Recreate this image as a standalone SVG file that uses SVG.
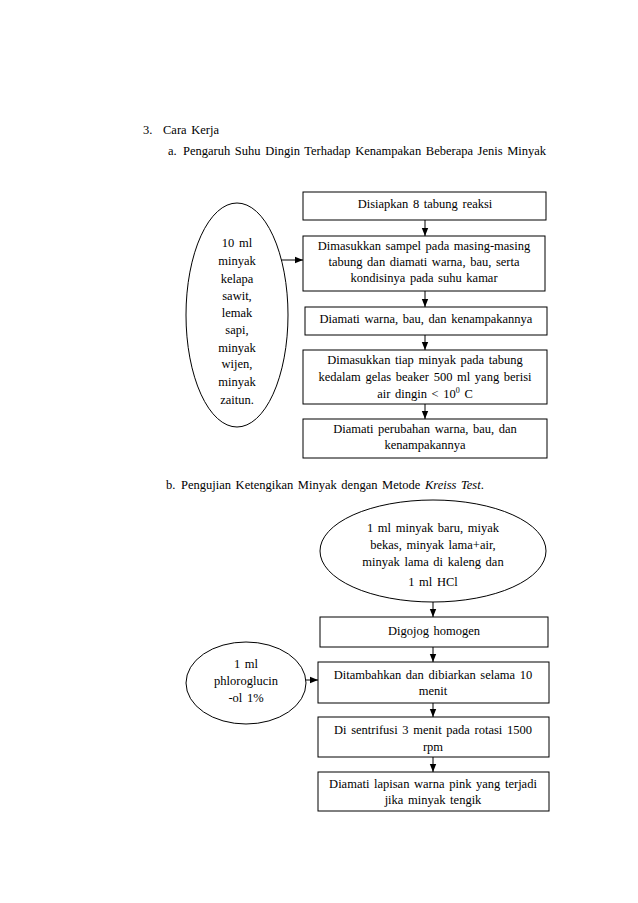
<svg xmlns="http://www.w3.org/2000/svg" width="638" height="903" viewBox="0 0 638 903">
<style>
.t{font-family:"Liberation Serif","Times New Roman",serif;font-size:12.5px;fill:#000;word-spacing:1.5px}
.m{text-anchor:middle}
.s{fill:#fff;stroke:#000;stroke-width:1}
.c{stroke:#000;stroke-width:1;fill:none;marker-end:url(#ah)}
</style>
<defs>
<marker id="ah" viewBox="0 0 8 8" refX="8" refY="4" markerWidth="8" markerHeight="8" markerUnits="userSpaceOnUse" orient="auto">
<path d="M0,0.8 L8,4 L0,7.2 Z" fill="#000"/>
</marker>
</defs>
<rect width="638" height="903" fill="#fff"/>
<g id="headings">
<text class="t" x="143" y="134">3.</text>
<text class="t" x="163" y="134">Cara Kerja</text>
<text class="t" x="168" y="155">a.</text>
<text class="t" x="183" y="155">Pengaruh  Suhu  Dingin  Terhadap Kenampakan  Beberapa Jenis  Minyak</text>
<text class="t" x="166" y="489">b.</text>
<text class="t" x="181" y="489">Pengujian  Ketengikan  Minyak  dengan Metode <tspan font-style="italic">Kreiss Test</tspan>.</text>
</g>
<g id="connectors">
<line class="c" x1="425" y1="220" x2="425" y2="236"/>
<line class="c" x1="425" y1="291" x2="425" y2="307"/>
<line class="c" x1="425" y1="335" x2="425" y2="350"/>
<line class="c" x1="425" y1="404" x2="425" y2="419"/>
<line class="c" x1="281" y1="260" x2="303" y2="260"/>
<line class="c" x1="433" y1="602" x2="433" y2="617"/>
<line class="c" x1="433" y1="647" x2="433" y2="662"/>
<line class="c" x1="433" y1="703" x2="433" y2="717"/>
<line class="c" x1="433" y1="757" x2="433" y2="772"/>
<line class="c" x1="300" y1="680" x2="318" y2="680"/>
</g>
<g id="ellA">
<ellipse class="s" cx="237" cy="315" rx="51" ry="112"/>
<text class="t m" x="237" y="247">10 ml</text>
<text class="t m" x="237" y="265">minyak</text>
<text class="t m" x="237" y="283">kelapa</text>
<text class="t m" x="237" y="300">sawit,</text>
<text class="t m" x="237" y="317">lemak</text>
<text class="t m" x="237" y="334">sapi,</text>
<text class="t m" x="237" y="352">minyak</text>
<text class="t m" x="237" y="368">wijen,</text>
<text class="t m" x="237" y="386">minyak</text>
<text class="t m" x="237" y="404">zaitun.</text>
</g>
<g id="A1">
<rect class="s" x="303" y="192" width="243" height="28"/>
<text class="t m" x="425" y="208">Disiapkan  8 tabung  reaksi</text>
</g>
<g id="A2">
<rect class="s" x="303" y="236" width="242" height="55"/>
<text class="t m" x="424" y="250">Dimasukkan  sampel pada masing-masing</text>
<text class="t m" x="424" y="266">tabung  dan diamati  warna, bau, serta</text>
<text class="t m" x="424" y="282">kondisinya  pada suhu  kamar</text>
</g>
<g id="A3">
<rect class="s" x="305" y="307" width="242" height="28"/>
<text class="t m" x="426" y="323">Diamati  warna, bau, dan kenampakannya</text>
</g>
<g id="A4">
<rect class="s" x="303" y="350" width="244" height="54"/>
<text class="t m" x="425" y="364">Dimasukkan  tiap minyak  pada tabung</text>
<text class="t m" x="425" y="381">kedalam gelas beaker 500 ml yang berisi</text>
<text class="t m" x="425" y="398">air dingin  &lt; 10<tspan dy="-5" font-size="8">0</tspan><tspan dy="5"> C</tspan></text>
</g>
<g id="A5">
<rect class="s" x="303" y="419" width="244" height="39"/>
<text class="t m" x="425" y="433">Diamati  perubahan warna, bau, dan</text>
<text class="t m" x="425" y="449">kenampakannya</text>
</g>
<g id="ellB">
<ellipse class="s" cx="433" cy="551" rx="113" ry="51"/>
<text class="t m" x="433" y="532">1 ml minyak  baru, miyak</text>
<text class="t m" x="433" y="549">bekas, minyak  lama+air,</text>
<text class="t m" x="433" y="566">minyak  lama di kaleng  dan</text>
<text class="t m" x="433" y="586">1 ml HCl</text>
</g>
<g id="B1">
<rect class="s" x="320" y="617" width="228" height="30"/>
<text class="t m" x="434" y="635">Digojog  homogen</text>
</g>
<g id="ellB2">
<ellipse class="s" cx="246" cy="683" rx="60" ry="41"/>
<text class="t m" x="246" y="668">1 ml</text>
<text class="t m" x="246" y="685">phloroglucin</text>
<text class="t m" x="246" y="702">-ol 1%</text>
</g>
<g id="B2">
<rect class="s" x="318" y="662" width="231" height="41"/>
<text class="t m" x="433" y="679">Ditambahkan  dan dibiarkan  selama 10</text>
<text class="t m" x="433" y="695">menit</text>
</g>
<g id="B3">
<rect class="s" x="318" y="717" width="231" height="40"/>
<text class="t m" x="433" y="734">Di sentrifusi  3 menit  pada rotasi 1500</text>
<text class="t m" x="433" y="751">rpm</text>
</g>
<g id="B4">
<rect class="s" x="318" y="772" width="231" height="39"/>
<text class="t m" x="433" y="788">Diamati  lapisan  warna pink yang  terjadi</text>
<text class="t m" x="433" y="804">jika minyak  tengik</text>
</g>
</svg>
